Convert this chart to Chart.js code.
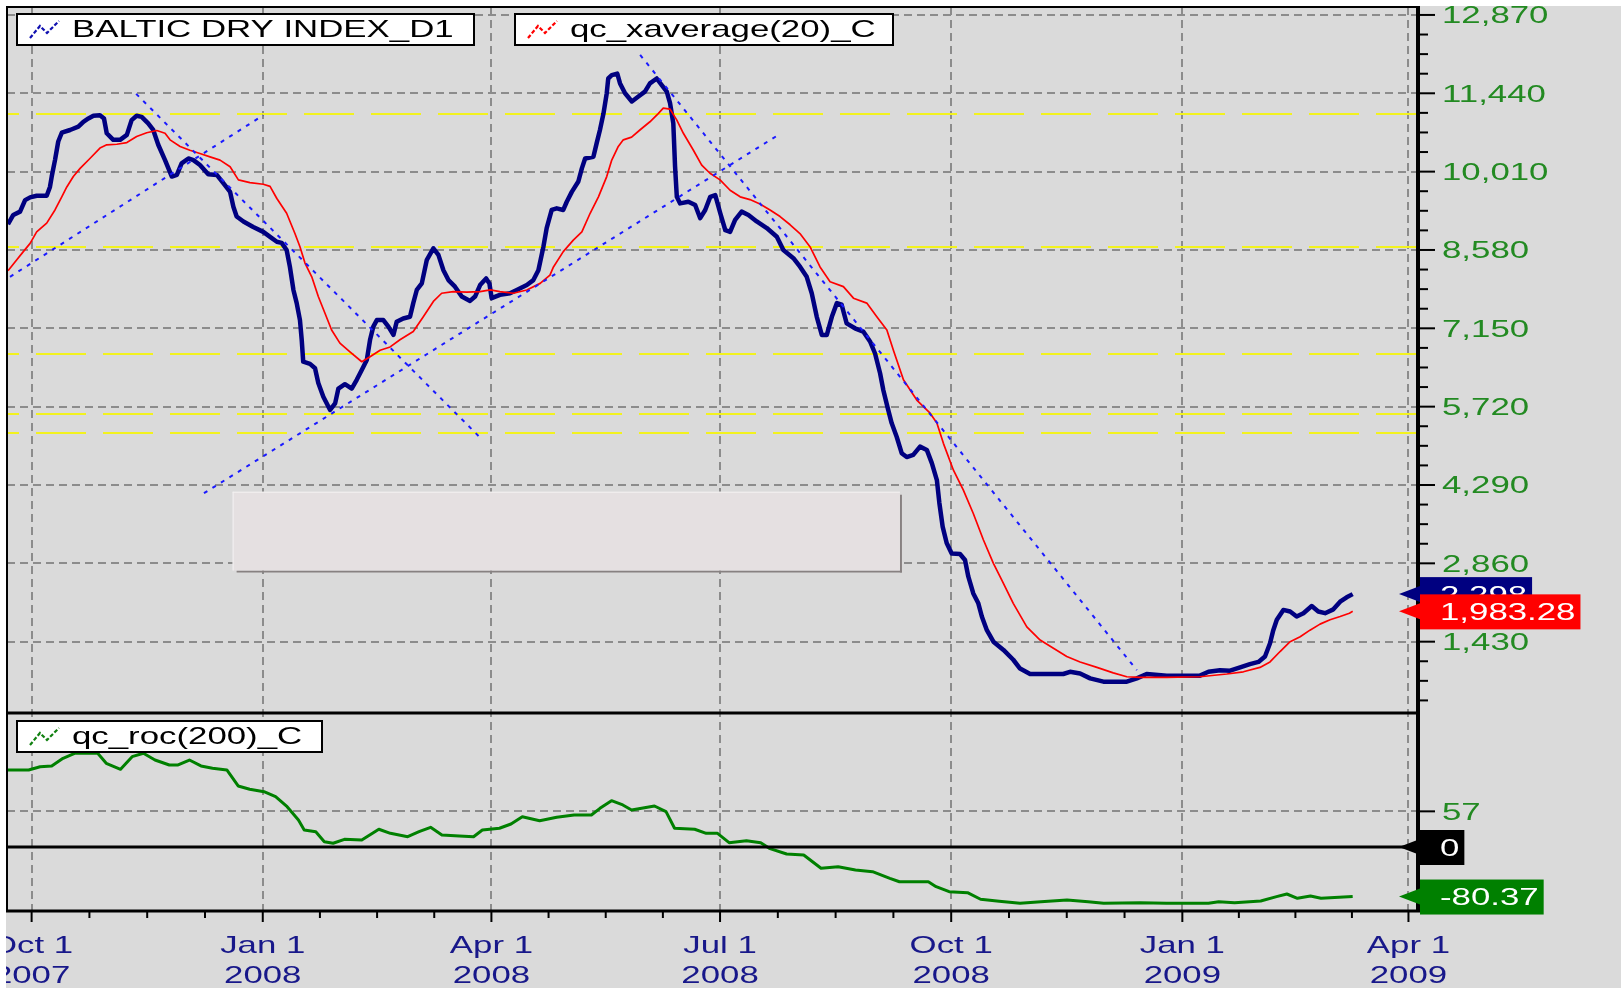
<!DOCTYPE html>
<html>
<head>
<meta charset="utf-8">
<title>Baltic Dry Index</title>
<script src="https://cdn.jsdelivr.net/npm/chart.js@4.4.1/dist/chart.umd.min.js"></script>
<style>
  html, body { margin: 0; padding: 0; background: #dadada; }
  canvas { display: block; }
</style>
</head>
<body>
<canvas id="chart" width="1621" height="988"></canvas>
<script>
// x values are calendar days counted from 1 Oct 2007
const bdiDays = [-9.4, -7.3, -4.6, -2.6, -0.6, 2.0, 6.0, 7.3, 8.0, 9.3,
  10.6, 12.0, 15.3, 18.6, 20.6, 22.6, 24.6, 27.2, 28.8, 29.9,
  32.5, 35.2, 37.9, 39.8, 41.8, 43.8, 46.4, 48.4, 50.4, 53.1,
  55.8, 57.8, 59.7, 62.4, 64.4, 67.0, 70.3, 73.7, 76.3, 79.0,
  80.3, 81.6, 84.3, 88.2, 92.2, 94.9, 97.6, 99.5, 101.5, 102.8,
  104.2, 105.5, 106.8, 107.5, 108.1, 110.8, 112.8, 114.1, 116.1, 118.8,
  120.8, 122.1, 124.7, 127.4, 129.4, 131.4, 133.4, 134.7, 136.0, 137.4,
  140.0, 142.0, 144.0, 145.3, 147.9, 150.6, 151.9, 153.3, 155.3, 157.3,
  159.9, 161.9, 163.9, 165.9, 168.5, 171.2, 174.5, 176.5, 178.5, 180.9,
  182.2, 183.1, 186.4, 190.4, 193.1, 197.1, 199.7, 201.7, 203.7, 205.0,
  207.0, 209.0, 211.6, 213.0, 215.0, 217.6, 219.0, 220.3, 223.6, 224.9,
  226.2, 227.6, 228.9, 229.5, 230.9, 233.1, 234.2, 236.2, 238.9, 241.5,
  244.1, 246.1, 248.8, 250.8, 252.8, 254.1, 255.4, 256.1, 256.8, 258.1,
  261.4, 264.1, 266.1, 268.1, 270.1, 272.1, 274.1, 276.1, 278.0, 280.0,
  282.6, 285.3, 288.6, 292.6, 296.6, 299.2, 303.2, 305.9, 308.5, 310.5,
  312.5, 314.5, 316.5, 318.5, 320.5, 322.4, 324.4, 327.7, 331.0, 333.7,
  335.7, 337.7, 339.0, 340.6, 342.3, 344.3, 346.3, 348.3, 350.9, 353.6,
  356.3, 358.3, 360.3, 361.3, 362.6, 364.2, 366.2, 369.5, 371.5, 372.8,
  374.8, 376.8, 378.2, 380.2, 382.8, 386.8, 390.7, 393.4, 397.4, 405.4,
  410.6, 413.3, 417.3, 421.3, 426.6, 435.9, 439.9, 443.8, 451.8, 465.0,
  468.4, 473.0, 477.0, 481.0, 484.9, 488.3, 490.9, 492.9, 494.2, 495.6,
  498.2, 500.9, 503.5, 506.2, 509.5, 512.1, 514.8, 518.1, 520.8, 523.4,
  525.8];
const bdiValues = [9050, 9220, 9280, 9490, 9540, 9570, 9570, 9730, 9920, 10220,
  10560, 10720, 10770, 10830, 10920, 10980, 11030, 11040, 10980, 10710,
  10590, 10590, 10680, 10950, 11030, 11010, 10890, 10770, 10500, 10220,
  9920, 9950, 10160, 10250, 10220, 10130, 9960, 9950, 9800, 9640,
  9370, 9190, 9100, 9000, 8910, 8820, 8730, 8710, 8580, 8270,
  7850, 7610, 7300, 6940, 6540, 6500, 6420, 6150, 5900, 5660,
  5780, 6050, 6130, 6050, 6210, 6390, 6570, 6940, 7180, 7300,
  7300, 7180, 7030, 7270, 7330, 7360, 7610, 7850, 7970, 8400,
  8610, 8490, 8210, 8030, 7910, 7730, 7650, 7730, 7940, 8060,
  7970, 7700, 7760, 7790, 7850, 7940, 8030, 8210, 8640, 8980,
  9310, 9340, 9310, 9460, 9640, 9830, 10070, 10250, 10280, 10530,
  10770, 11070, 11440, 11710, 11770, 11800, 11620, 11440, 11290, 11380,
  11470, 11620, 11710, 11590, 11470, 11260, 10890, 10100, 9550, 9430,
  9460, 9400, 9160, 9310, 9550, 9580, 9250, 8940, 8910, 9130,
  9280, 9220, 9100, 8980, 8820, 8580, 8430, 8270, 8090, 7790,
  7360, 7030, 7030, 7360, 7610, 7580, 7240, 7150, 7090, 6910,
  6690, 6330, 6020, 5720, 5420, 5170, 4870, 4800, 4840, 4990,
  4930, 4690, 4380, 3960, 3530, 3230, 3040, 3030, 2920, 2620,
  2310, 2130, 1890, 1640, 1430, 1280, 1100, 940, 840, 840,
  840, 880, 850, 760, 700, 700, 760, 840, 810, 810,
  880, 910, 900, 960, 1020, 1060, 1160, 1400, 1640, 1830,
  2010, 1980, 1890, 1950, 2080, 1980, 1950, 2020, 2160, 2240,
  2298];

const emaDays = [-9.4, -5.9, -3.3, -0.6, 2.0, 6.0, 9.3, 12.0, 14.0, 16.6,
  19.3, 23.2, 27.2, 29.9, 33.9, 37.9, 41.8, 45.8, 49.8, 53.1,
  55.1, 59.1, 63.0, 67.0, 71.0, 75.0, 79.0, 82.3, 86.9, 92.2,
  94.9, 97.6, 101.5, 104.8, 106.8, 108.8, 111.5, 114.1, 116.8, 119.4,
  122.7, 126.7, 131.4, 134.7, 138.7, 142.7, 146.6, 151.9, 155.9, 159.9,
  163.2, 167.8, 173.2, 178.5, 182.5, 186.4, 191.7, 197.1, 202.4, 206.3,
  207.7, 211.6, 215.6, 219.0, 222.3, 225.6, 228.9, 230.9, 233.5, 235.5,
  238.8, 242.1, 246.1, 249.4, 251.4, 254.1, 256.8, 259.4, 263.4, 266.7,
  270.0, 274.0, 278.0, 282.0, 285.9, 289.9, 293.9, 297.9, 301.9, 305.8,
  309.8, 313.8, 317.8, 323.1, 327.1, 332.4, 336.4, 340.4, 343.0, 347.0,
  352.3, 357.6, 360.3, 362.9, 366.9, 370.8, 374.8, 378.8, 382.8, 386.1,
  390.7, 396.1, 401.4, 406.7, 412.0, 417.3, 424.0, 430.5, 435.9, 441.2,
  451.8, 465.0, 475.7, 482.3, 488.9, 492.9, 496.9, 500.9, 504.9, 508.8,
  512.8, 516.8, 520.8, 524.5, 525.8];
const emaValues = [8200, 8400, 8550, 8700, 8910, 9070, 9310, 9550, 9730, 9920,
  10070, 10250, 10440, 10500, 10510, 10540, 10650, 10720, 10760, 10710,
  10590, 10470, 10400, 10340, 10280, 10220, 10100, 9860, 9810, 9780,
  9740, 9520, 9250, 8880, 8640, 8340, 8090, 7730, 7420, 7120,
  6880, 6720, 6540, 6630, 6750, 6810, 6940, 7090, 7360, 7640,
  7790, 7820, 7810, 7820, 7850, 7820, 7790, 7850, 7970, 8120,
  8270, 8550, 8760, 8910, 9250, 9550, 9920, 10220, 10470, 10590,
  10640, 10770, 10920, 11070, 11170, 11150, 10950, 10710, 10400, 10130,
  9980, 9860, 9670, 9550, 9500, 9420, 9310, 9190, 9040, 8880,
  8640, 8270, 8000, 7910, 7700, 7610, 7360, 7120, 6750, 6210,
  5840, 5600, 5420, 5050, 4560, 4200, 3770, 3290, 2860, 2560,
  2130, 1700, 1460, 1310, 1160, 1060, 960, 860, 790, 780,
  780, 790, 840, 880, 960, 1060, 1250, 1430, 1520, 1640,
  1750, 1830, 1890, 1950, 1983.28];

const rocDays = [-9.4, -1.2, 3.4, 8.0, 12.5, 17.1, 26.3, 29.7, 35.4, 40.0,
  44.5, 49.1, 54.8, 58.3, 62.8, 67.4, 72.0, 77.7, 82.2, 86.8,
  92.5, 97.1, 101.7, 106.2, 108.5, 113.1, 116.5, 120.0, 124.5, 131.4,
  138.2, 142.8, 149.7, 154.2, 158.8, 163.3, 170.2, 175.9, 179.4, 186.2,
  190.8, 195.3, 202.2, 209.0, 215.9, 222.8, 226.2, 230.8, 235.3, 238.8,
  247.9, 252.5, 255.9, 263.9, 268.5, 273.0, 277.6, 284.5, 290.2, 293.6,
  300.5, 307.3, 314.2, 321.0, 327.9, 334.7, 341.6, 345.4, 356.9, 360.0,
  365.2, 372.5, 377.7, 385.1, 393.4, 401.7, 412.1, 420.5, 426.7, 441.3,
  451.7, 468.4, 472.5, 478.8, 489.2, 495.5, 499.6, 503.8, 509.0, 513.2,
  525.8];
const rocValues = [123.7, 123.7, 129, 130.2, 142.6, 150.6, 150.6, 134.5, 124.8, 145.2,
  150.6, 139.8, 131.8, 131.8, 139.8, 130.2, 126.5, 123.7, 97.9, 92.6,
  88.7, 80.6, 64.5, 43.1, 27, 24.2, 8.1, 5.5, 11.9, 10.8,
  28.1, 21.6, 16.1, 24.2, 31.3, 18.9, 17.3, 16.1, 26.9, 29.7,
  36.6, 48.4, 41.9, 47.4, 51.1, 51.1, 61.9, 74.2, 67.3, 59.2,
  65.6, 56.5, 29.7, 28.1, 21.6, 21.6, 6.5, 9.7, 6.5, -2.6,
  -11.8, -13.4, -34.8, -32.3, -37.6, -40.3, -51, -56.5, -56.5, -64.5,
  -72.6, -74.2, -84.8, -88.1, -91.3, -88.7, -86, -88.7, -91.3, -90.3,
  -91.3, -91.3, -88.7, -90.3, -87.6, -80.6, -76.3, -83.2, -79.5, -83.2,
  -80.37];

// hand drawn trendlines, start and end of each
const trendDays = [[-8.6, 92.2], [41.6, 179.5], [68.6, 297.2], [242.2, 439.9]];
const trendValues = [[8090, 11040], [11430, 5110], [4140, 10680], [12140, 910]];

// horizontal support / resistance levels
const levelValues = [11060, 8630, 6690, 5590, 5230];

// empty note box left on the chart
const noteBox = { days: [80.0, 345.6], values: [4167, 2729] };

const priceTicks = [1430, 2860, 4290, 5720, 7150, 8580, 10010, 11440, 12870];
const rocTicks = [57];
const quarterDays = [0, 92, 183, 274, 366, 458, 548];
const quarterLabels = ['Oct 1', 'Jan 1', 'Apr 1', 'Jul 1', 'Oct 1', 'Jan 1', 'Apr 1'];
const quarterYears = ['2007', '2008', '2008', '2008', '2008', '2009', '2009'];

const seriesNames = ['BALTIC DRY INDEX_D1', 'qc_xaverage(20)_C', 'qc_roc(200)_C'];

// the platform draws its text wide, so stretch it horizontally
const SX = 1.45;
const FONT = '24px "Liberation Sans", Arial, sans-serif';

function toPoints(xs, ys) {
  return xs.map((d, i) => ({ x: d, y: ys[i] }));
}

function wideText(ctx, text, x, y, align, color) {
  ctx.save();
  ctx.font = FONT;
  ctx.fillStyle = color;
  ctx.textAlign = align;
  ctx.textBaseline = 'alphabetic';
  ctx.translate(x, y);
  ctx.scale(SX, 1);
  ctx.fillText(text, 0, 0);
  ctx.restore();
}

function textWidth(ctx, text) {
  ctx.save();
  ctx.font = FONT;
  const w = ctx.measureText(text).width * SX;
  ctx.restore();
  return w;
}

function line(ctx, x0, y0, x1, y1, w) {
  ctx.lineWidth = w;
  ctx.beginPath();
  ctx.moveTo(x0, y0);
  ctx.lineTo(x1, y1);
  ctx.stroke();
}

function legendBox(ctx, x, y, w, h, color, text) {
  ctx.fillStyle = '#fff';
  ctx.fillRect(x, y, w, h);
  ctx.strokeStyle = '#000';
  ctx.lineWidth = 2;
  ctx.strokeRect(x, y, w, h);
  // little zig-zag line symbol
  ctx.save();
  ctx.strokeStyle = color;
  ctx.lineWidth = 2.2;
  ctx.setLineDash([4, 2]);
  ctx.beginPath();
  ctx.moveTo(x + 13, y + 24);
  ctx.lineTo(x + 23, y + 12);
  ctx.lineTo(x + 30, y + 19);
  ctx.lineTo(x + 42, y + 7);
  ctx.stroke();
  ctx.restore();
  wideText(ctx, text, x + 55, y + 23, 'left', '#000');
}

function valueTag(ctx, axisX, py, text, fill) {
  const w = textWidth(ctx, text);
  ctx.fillStyle = fill;
  ctx.beginPath();
  ctx.moveTo(axisX - 19, py);
  ctx.lineTo(axisX + 2, py - 8);
  ctx.lineTo(axisX + 2, py + 8);
  ctx.closePath();
  ctx.fill();
  ctx.fillRect(axisX + 2, py - 17, w + 25, 35);
  wideText(ctx, text, axisX + 22, py + 8.7, 'left', '#fff');
}

const tradeDecor = {
  id: 'tradeDecor',
  beforeDraw(chart) {
    const ctx = chart.ctx;
    ctx.save();
    ctx.fillStyle = '#dadada';
    ctx.fillRect(0, 0, chart.width, chart.height);
    ctx.restore();
  },
  beforeDatasetsDraw(chart) {
    const { ctx, chartArea: a, scales: { x, y } } = chart;
    ctx.save();
    ctx.strokeStyle = '#f2f21e';
    ctx.setLineDash([50, 17]);
    ctx.lineDashOffset = 38;
    levelValues.forEach(v => {
      const py = Math.round(y.getPixelForValue(v));
      line(ctx, a.left, py, a.right, py, 2);
    });
    ctx.setLineDash([]);

    const nx0 = x.getPixelForValue(noteBox.days[0]);
    const nx1 = x.getPixelForValue(noteBox.days[1]);
    const ny0 = y.getPixelForValue(noteBox.values[0]);
    const ny1 = y.getPixelForValue(noteBox.values[1]);
    ctx.fillStyle = '#878181';
    ctx.fillRect(nx0 + 4, ny1, nx1 - nx0 - 2, 2);
    ctx.fillRect(nx1, ny0 + 3, 2, ny1 - ny0 - 1);
    ctx.fillStyle = '#e5e0e1';
    ctx.fillRect(nx0, ny0, nx1 - nx0, ny1 - ny0);
    ctx.fillStyle = '#f4f2f2';
    ctx.fillRect(nx0, ny0, nx1 - nx0, 1);
    ctx.fillRect(nx0, ny0, 1, ny1 - ny0);
    ctx.restore();
  },
  afterDraw(chart) {
    const { ctx, chartArea: a, scales: { x, y, y2 } } = chart;
    const axisX = a.right + 1;
    const green = '#238a22';
    const navy = '#18188a';
    ctx.save();

    // axis labels
    priceTicks.forEach(v => {
      wideText(ctx, v.toLocaleString('en-US'), axisX + 24, y.getPixelForValue(v) + 8.5, 'left', green);
    });
    rocTicks.forEach(v => {
      wideText(ctx, String(v), axisX + 24, y2.getPixelForValue(v) + 8.5, 'left', green);
    });
    quarterDays.forEach((d, i) => {
      const px = x.getPixelForValue(d);
      wideText(ctx, quarterLabels[i], px, a.bottom + 42, 'center', navy);
      wideText(ctx, quarterYears[i], px, a.bottom + 72, 'center', navy);
    });

    // white margin at top and left
    ctx.fillStyle = '#fff';
    ctx.fillRect(0, 0, chart.width, a.top - 1);
    ctx.fillRect(0, 0, a.left - 1, chart.height);

    ctx.strokeStyle = '#000';
    // oscillator zero line
    const zy = Math.round(y2.getPixelForValue(0));
    line(ctx, a.left, zy, a.right, zy, 3);
    // pane frames
    line(ctx, a.left - 1, a.top, a.right, a.top, 2);
    line(ctx, a.left, a.top, a.left, a.bottom, 2);
    line(ctx, a.left, y.bottom, a.right, y.bottom, 3);
    line(ctx, a.left - 1, a.bottom, axisX + 2, a.bottom, 3);
    line(ctx, axisX, a.top - 1, axisX, a.bottom + 1, 4);

    // price axis marks, four steps between labels
    const step = (priceTicks[1] - priceTicks[0]) / 4;
    for (let k = -4; k <= priceTicks.length * 4; k++) {
      const v = priceTicks[0] + k * step;
      if (v < y.min || v > y.max) continue;
      const py = y.getPixelForValue(v);
      line(ctx, axisX, py, axisX + (k % 4 === 0 ? 17 : 10), py, 2);
    }
    rocTicks.forEach(v => {
      const py = y2.getPixelForValue(v);
      line(ctx, axisX, py, axisX + 17, py, 2);
    });
    // date axis marks, three minor marks per quarter
    quarterDays.forEach((d, i) => {
      const px = x.getPixelForValue(d);
      line(ctx, px, a.bottom, px, a.bottom + 11, 2);
      const next = quarterDays[i + 1];
      if (next === undefined) return;
      for (let j = 1; j < 4; j++) {
        const mx = x.getPixelForValue(d + (next - d) * j / 4);
        line(ctx, mx, a.bottom, mx, a.bottom + 7, 2);
      }
    });

    // legends
    legendBox(ctx, 17, 14, 457, 31, '#1010b0', seriesNames[0]);
    legendBox(ctx, 515, 14, 378, 31, '#ff0000', seriesNames[1]);
    legendBox(ctx, 17, 721, 305, 31, '#108010', seriesNames[2]);

    // last value tags
    const lastBdi = bdiValues[bdiValues.length - 1];
    const lastEma = emaValues[emaValues.length - 1];
    const lastRoc = rocValues[rocValues.length - 1];
    valueTag(ctx, axisX, y.getPixelForValue(lastBdi), lastBdi.toLocaleString('en-US'), '#000080');
    valueTag(ctx, axisX, y.getPixelForValue(lastEma),
      lastEma.toLocaleString('en-US', { minimumFractionDigits: 2 }), '#ff0000');
    valueTag(ctx, axisX, zy, '0', '#000');
    valueTag(ctx, axisX, y2.getPixelForValue(lastRoc), lastRoc.toFixed(2), '#008000');

    ctx.restore();
  }
};

const trendSets = trendDays.map((days, i) => ({
  data: toPoints(days, trendValues[i]),
  borderColor: '#1a1aff',
  borderWidth: 2,
  borderDash: [4, 6],
  pointRadius: 0,
  yAxisID: 'y',
  order: 0
}));

const gridDash = { display: false, dash: [8, 5] };

new Chart(document.getElementById('chart'), {
  type: 'line',
  data: {
    datasets: [
      {
        data: toPoints(bdiDays, bdiValues),
        borderColor: '#000080',
        borderWidth: 4.5,
        pointRadius: 0,
        yAxisID: 'y',
        order: 2
      },
      {
        data: toPoints(emaDays, emaValues),
        borderColor: '#ff0000',
        borderWidth: 1.7,
        pointRadius: 0,
        yAxisID: 'y',
        order: 1
      },
      {
        data: toPoints(rocDays, rocValues),
        borderColor: '#008000',
        borderWidth: 3,
        pointRadius: 0,
        yAxisID: 'y2',
        order: 3
      },
      ...trendSets
    ]
  },
  options: {
    responsive: false,
    animation: false,
    devicePixelRatio: 1,
    layout: { padding: { left: 7, top: 7, right: 0, bottom: 0 } },
    elements: { line: { tension: 0, borderJoinStyle: 'round' } },
    plugins: { legend: { display: false }, tooltip: { enabled: false } },
    scales: {
      x: {
        type: 'linear',
        position: 'bottom',
        min: -9.8,
        max: 551.4,
        afterBuildTicks: s => { s.ticks = quarterDays.map(v => ({ value: v })); },
        afterFit: s => { s.height = 77; },
        ticks: { display: false },
        grid: { color: '#8c8c8c', lineWidth: 2, drawTicks: false },
        border: gridDash
      },
      y: {
        type: 'linear',
        position: 'right',
        stack: 'panes',
        stackWeight: 706,
        min: 128,
        max: 13015,
        afterBuildTicks: s => { s.ticks = priceTicks.map(v => ({ value: v })); },
        afterFit: s => { s.width = 204; },
        ticks: { display: false },
        grid: { color: '#8c8c8c', lineWidth: 2, drawTicks: false },
        border: gridDash
      },
      y2: {
        type: 'linear',
        position: 'right',
        stack: 'panes',
        stackWeight: 198,
        min: -103.7,
        max: 215.6,
        afterBuildTicks: s => { s.ticks = rocTicks.map(v => ({ value: v })); },
        afterFit: s => { s.width = 204; },
        ticks: { display: false },
        grid: { color: '#8c8c8c', lineWidth: 2, drawTicks: false },
        border: gridDash
      }
    }
  },
  plugins: [tradeDecor]
});
</script>
</body>
</html>
